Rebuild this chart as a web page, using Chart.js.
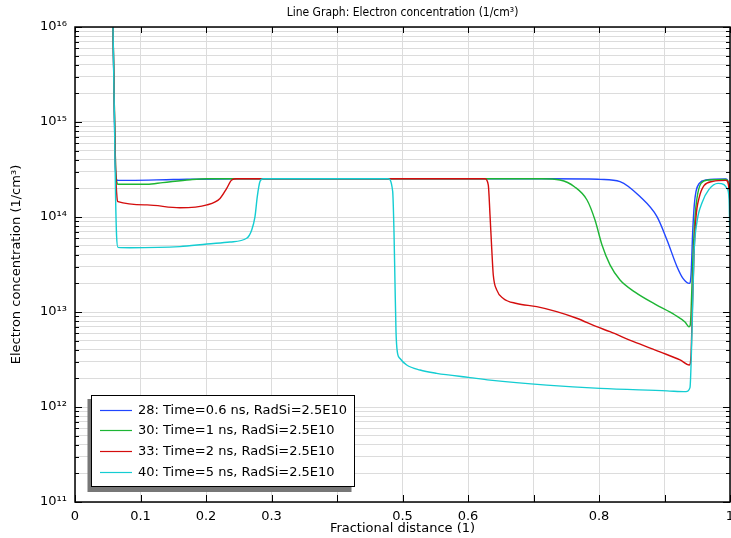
<!DOCTYPE html>
<html>
<head>
<meta charset="utf-8">
<script src="https://cdn.jsdelivr.net/npm/chart.js@4.4.1/dist/chart.umd.min.js"></script>
<style>
  html, body { margin: 0; padding: 0; background: #fff; }
  #wrap { width: 731px; height: 538px; }
</style>
</head>
<body>
<div id="wrap"><canvas id="electronChart" width="731" height="538"></canvas></div>
<script>
// series (x = fractional distance, y = electron concentration 1/cm3)
const seriesLabels = [
  '28: Time=0.6 ns, RadSi=2.5E10',
  '30: Time=1 ns, RadSi=2.5E10',
  '33: Time=2 ns, RadSi=2.5E10',
  '40: Time=5 ns, RadSi=2.5E10'
];
const seriesColors = ['#2046ff', '#1db534', '#d40d0d', '#14cdd2'];

const blueX = [0.058, 0.0603, 0.0618, 0.0641, 0.0656, 0.084, 0.15, 0.25, 0.5, 0.72,
  0.78, 0.8015, 0.8321, 0.8626, 0.8885, 0.9038, 0.9191, 0.9282, 0.9379, 0.9405,
  0.9431, 0.9455, 0.9481, 0.9531, 0.9634, 0.9939, 0.9985, 1];
const blueY = [1e16, 1e15, 3.16e14, 2.45e14, 2.43e14, 2.43e14, 2.48e14, 2.53e14, 2.53e14, 2.53e14,
  2.51e14, 2.49e14, 2.36e14, 1.64e14, 1.01e14, 5.73e13, 3.0e13, 2.26e13, 2.0e13, 2.45e13,
  7.1e13, 1.34e14, 1.86e14, 2.26e14, 2.45e14, 2.51e14, 2.17e14, 1.6e14];

const greenX = [0.058, 0.0605, 0.062, 0.0641, 0.0656, 0.11, 0.134, 0.176, 0.2015, 0.5,
  0.712, 0.7405, 0.763, 0.7817, 0.7939, 0.8046, 0.8168, 0.8321, 0.855, 0.8855,
  0.916, 0.9313, 0.9374, 0.9392, 0.9405, 0.9435, 0.9466, 0.9496, 0.9557,
  0.9664, 0.9939, 0.9985, 1];
const greenY = [1e16, 1e15, 3.16e14, 2.3e14, 2.21e14, 2.21e14, 2.3e14, 2.47e14, 2.53e14, 2.53e14,
  2.53e14, 2.45e14, 2.07e14, 1.51e14, 9.3e13, 5.07e13, 3.13e13, 2.17e13, 1.62e13, 1.21e13,
  9.3e12, 7.85e12, 7.0e12, 7.2e12, 1.0e13, 3.98e13, 1.0e14, 1.58e14, 2.26e14,
  2.45e14, 2.48e14, 2.14e14, 1.5e14];

const redX = [0.058, 0.0605, 0.062, 0.0641, 0.0656, 0.11, 0.16, 0.2015, 0.2214, 0.2316,
  0.2392, 0.2469, 0.5, 0.626, 0.631, 0.6336, 0.6362, 0.6386, 0.6438, 0.6539,
  0.6743, 0.7049, 0.7354, 0.766, 0.7965, 0.8168, 0.8519, 0.8931, 0.9237, 0.9379,
  0.9405, 0.942, 0.945, 0.9481, 0.9527, 0.9603, 0.974, 0.9939, 0.9985, 1];
const redY = [1e16, 1e15, 3.16e14, 1.6e14, 1.45e14, 1.34e14, 1.25e14, 1.34e14, 1.57e14, 2.0e14,
  2.45e14, 2.53e14, 2.53e14, 2.53e14, 2.17e14, 1.05e14, 4.69e13, 2.45e13, 1.71e13, 1.39e13,
  1.23e13, 1.14e13, 1.01e13, 8.6e12, 7.0e12, 6.2e12, 4.9e12, 3.8e12, 3.13e12, 2.77e12,
  3.5e12, 7.9e12, 3.98e13, 1.0e14, 1.58e14, 2.14e14, 2.37e14, 2.43e14, 2.0e14, 1.3e14];

const cyanX = [0.058, 0.0603, 0.062, 0.0635, 0.0656, 0.084, 0.16, 0.2015, 0.2366, 0.2621,
  0.2698, 0.2748, 0.2783, 0.2824, 0.2875, 0.4779, 0.485, 0.487, 0.4885, 0.4901,
  0.4921, 0.4962, 0.5064, 0.5267, 0.5522, 0.603, 0.6336, 0.7202, 0.8015, 0.9038,
  0.9328, 0.9389, 0.942, 0.945, 0.9496, 0.9573, 0.9679, 0.9817, 0.9908, 0.9954,
  0.9985, 1];
const cyanY = [1e16, 1e15, 1.58e14, 6.3e13, 4.79e13, 4.75e13, 4.88e13, 5.2e13, 5.46e13, 5.97e13,
  7.3e13, 1.01e14, 1.64e14, 2.36e14, 2.53e14, 2.53e14, 1.86e14, 7.0e13, 2.08e13, 6.2e12,
  3.8e12, 3.24e12, 2.77e12, 2.45e12, 2.26e12, 2.04e12, 1.92e12, 1.7e12, 1.57e12, 1.48e12,
  1.45e12, 1.6e12, 6.3e12, 3.98e13, 8.9e13, 1.41e14, 1.95e14, 2.26e14, 2.19e14, 2.0e14,
  1.58e14, 5e13];

// axis ticks
const xTickValues = [0, 0.1, 0.2, 0.3, 0.4, 0.5, 0.6, 0.7, 0.8, 0.9, 1];
const xTickLabels = ['0', '0.1', '0.2', '0.3', '', '0.5', '0.6', '', '0.8', '', '1'];
const yDecades = [1e11, 1e12, 1e13, 1e14, 1e15, 1e16];
const yDecadeLabels = ['10¹¹', '10¹²', '10¹³', '10¹⁴', '10¹⁵', '10¹⁶'];
const yMinorSteps = [2, 3, 4, 5, 6, 7, 8, 9];

const chartTitle = 'Line Graph: Electron concentration (1/cm³)';
const xTitle = 'Fractional distance (1)';
const yTitle = 'Electron concentration (1/cm³)';

const fontFamily = "'DejaVu Sans', sans-serif";
Chart.defaults.font.family = fontFamily;
Chart.defaults.color = '#000';

const toPoints = (xs, ys) => xs.map((x, i) => ({ x: x, y: ys[i] }));
const seriesData = [toPoints(blueX, blueY), toPoints(greenX, greenY), toPoints(redX, redY), toPoints(cyanX, cyanY)];

// all y grid values: 1..9 x 10^n, plus top decade
const yGridValues = [];
yDecades.forEach((d, i) => {
  yGridValues.push(d);
  if (i < yDecades.length - 1) yMinorSteps.forEach(m => yGridValues.push(m * d));
});

const frameAndTicks = {
  id: 'frameAndTicks',
  afterDatasetsDraw(chart) {
    const { ctx, chartArea: a, scales: { x, y } } = chart;
    ctx.save();
    ctx.strokeStyle = '#000';
    ctx.lineWidth = 1;
    ctx.beginPath();
    x.ticks.forEach(t => {
      const px = Math.round(x.getPixelForValue(t.value)) + 0.5;
      ctx.moveTo(px, a.bottom); ctx.lineTo(px, a.bottom - 7);
      ctx.moveTo(px, a.top); ctx.lineTo(px, a.top + 6);
    });
    y.ticks.forEach(t => {
      const len = t.major ? 7 : 4;
      const py = Math.round(y.getPixelForValue(t.value)) + 0.5;
      ctx.moveTo(a.left, py); ctx.lineTo(a.left + len, py);
      ctx.moveTo(a.right, py); ctx.lineTo(a.right - len, py);
    });
    ctx.stroke();
    ctx.lineWidth = 1.5;
    ctx.strokeRect(a.left, a.top, a.right - a.left, a.bottom - a.top);
    ctx.restore();
  }
};

const boxLegend = {
  id: 'boxLegend',
  afterDatasetsDraw(chart) {
    const { ctx, chartArea: a } = chart;
    const bx = a.left + 16, by = a.bottom - 107, bw = 264, bh = 92;
    ctx.save();
    ctx.fillStyle = '#777';
    ctx.fillRect(bx - 3.5, by + 4, bw, bh + 1);
    ctx.fillStyle = '#fff';
    ctx.fillRect(bx, by, bw, bh);
    ctx.strokeStyle = '#000';
    ctx.lineWidth = 1;
    ctx.strokeRect(bx + 0.5, by + 0.5, bw - 1, bh - 1);
    ctx.font = '13px ' + fontFamily;
    ctx.textBaseline = 'middle';
    chart.data.datasets.forEach((ds, i) => {
      const ry = Math.round(by + 14.5 + i * 20.8) + 0.5;
      ctx.strokeStyle = ds.borderColor;
      ctx.lineWidth = 1.2;
      ctx.beginPath();
      ctx.moveTo(bx + 9, ry); ctx.lineTo(bx + 41, ry);
      ctx.stroke();
      ctx.fillStyle = '#000';
      ctx.fillText(ds.label, bx + 47, ry);
    });
    ctx.restore();
  }
};

const topTitle = {
  id: 'topTitle',
  afterDraw(chart) {
    const { ctx, chartArea: a } = chart;
    ctx.save();
    ctx.font = "12px 'DejaVu Sans Condensed', 'DejaVu Sans', sans-serif";
    ctx.fillStyle = '#000';
    ctx.textAlign = 'center';
    ctx.textBaseline = 'middle';
    ctx.fillText(chartTitle, (a.left + a.right) / 2, 13);
    ctx.restore();
  }
};

new Chart(document.getElementById('electronChart'), {
  type: 'line',
  data: {
    datasets: seriesData.map((pts, i) => ({
      label: seriesLabels[i],
      data: pts,
      borderColor: seriesColors[i],
      borderWidth: 1.4,
      pointRadius: 0,
      fill: false,
      cubicInterpolationMode: 'monotone',
      order: 3 - i
    }))
  },
  options: {
    responsive: false,
    animation: false,
    events: [],
    layout: { padding: { top: 27, right: 1, left: 0, bottom: 0 } },
    plugins: { legend: { display: false }, tooltip: { enabled: false }, title: { display: false } },
    scales: {
      x: {
        type: 'linear',
        min: 0,
        max: 1,
        afterBuildTicks: scale => { scale.ticks = xTickValues.map(v => ({ value: v })); },
        afterFit: scale => { scale.height = 36; scale.paddingLeft = 0; scale.paddingRight = 0; },
        grid: { color: '#dcdcdc', lineWidth: 1, drawTicks: false },
        border: { display: false },
        ticks: {
          autoSkip: false,
          maxRotation: 0,
          padding: 7,
          font: { size: 13 },
          callback: (value, index) => xTickLabels[index]
        },
        title: { display: true, text: xTitle, font: { size: 13 }, padding: { top: 0, bottom: 2 } }
      },
      y: {
        type: 'logarithmic',
        min: 1e11,
        max: 1e16,
        afterBuildTicks: scale => {
          scale.ticks = yGridValues.map(v => ({ value: v, major: yDecades.includes(v) }));
        },
        afterFit: scale => { scale.width = 75; scale.paddingTop = 0; scale.paddingBottom = 0; },
        grid: { color: '#dcdcdc', lineWidth: 1, drawTicks: false },
        border: { display: false },
        ticks: {
          autoSkip: false,
          padding: 8,
          font: { size: 13 },
          callback: value => {
            const k = yDecades.indexOf(value);
            return k >= 0 ? yDecadeLabels[k] : '';
          }
        },
        title: { display: true, text: yTitle, font: { size: 13 }, padding: { top: 9, bottom: 0 } }
      }
    }
  },
  plugins: [frameAndTicks, boxLegend, topTitle]
});
</script>
</body>
</html>
